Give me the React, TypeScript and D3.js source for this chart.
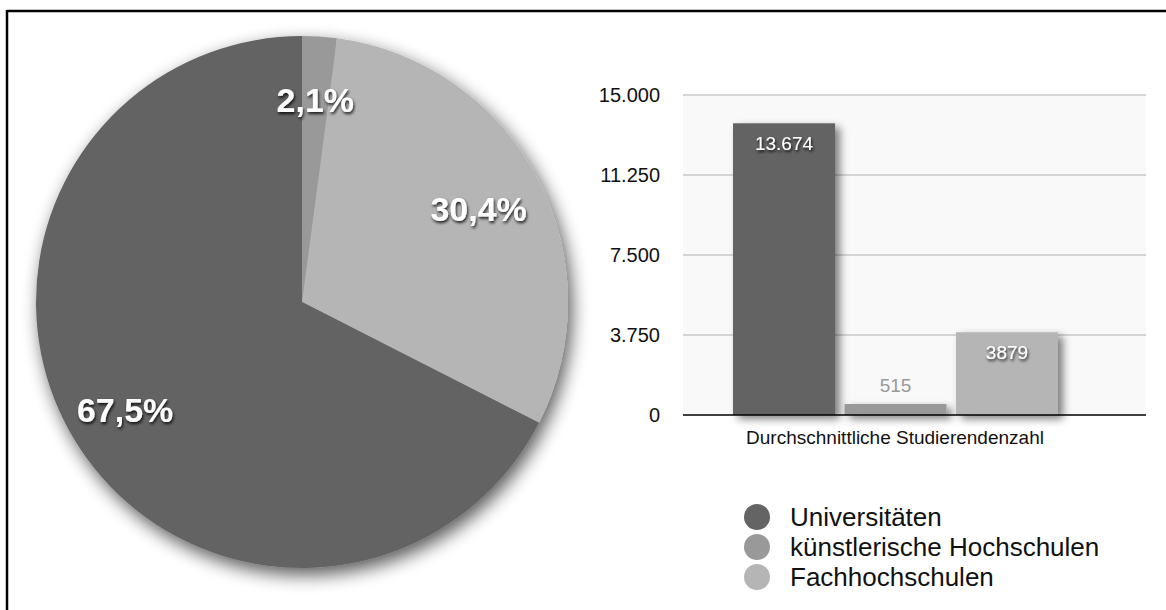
import React from "react";
import * as d3 from "d3";

const categories = ["Universitäten", "künstlerische Hochschulen", "Fachhochschulen"];
const pieShares = [67.5, 2.1, 30.4];
const pieLabels = ["67,5%", "2,1%", "30,4%"];
const barValues = [13674, 515, 3879];
const barLabels = ["13.674", "515", "3879"];
const yTicks = [0, 3750, 7500, 11250, 15000];
const yTickLabels = ["0", "3.750", "7.500", "11.250", "15.000"];
const xCategory = "Durchschnittliche Studierendenzahl";
const colors = ["#646464", "#999999", "#b5b5b5"];

const W = 1166, H = 610;
const FONT = "Liberation Sans, Arial, Helvetica, sans-serif";

export default function App() {
  // Pie: order clockwise from top: künstlerische, Fachhochschulen, Universitäten
  const cx = 302, cy = 302, r = 266;
  const order = [1, 2, 0];
  const labelRadius: Record<number, number> = { 0: 0.78, 1: 0.76, 2: 0.75 };
  const pie = d3.pie<number>().sort(null).value((i) => pieShares[i]);
  const arcs = pie(order);
  const arcGen = d3.arc<d3.PieArcDatum<number>>().innerRadius(0).outerRadius(r);
  const labelPos: Record<number, [number, number]> = {};
  arcs.forEach((a) => {
    const idx = a.data;
    const mid = (a.startAngle + a.endAngle) / 2;
    const rr = r * labelRadius[idx];
    labelPos[idx] = [Math.sin(mid) * rr, -Math.cos(mid) * rr];
  });

  // Bars
  const y = d3.scaleLinear().domain([0, 15000]).range([415, 95]);
  const x = d3.scaleBand<number>().domain([0, 1, 2]).range([733, 1058]).paddingInner(0.085);
  const plotL = 683, plotR = 1146;

  return (
    <svg width={W} height={H} style={{ position: "absolute", left: 0, top: 0, background: "#fff" }} fontFamily={FONT}>
      <defs>
        <filter id="pieShadow" x="-20%" y="-20%" width="140%" height="140%">
          <feGaussianBlur in="SourceAlpha" stdDeviation="9" />
          <feOffset dx="4" dy="7" result="b" />
          <feComponentTransfer><feFuncA type="linear" slope="0.65" /></feComponentTransfer>
          <feMerge><feMergeNode /><feMergeNode in="SourceGraphic" /></feMerge>
        </filter>
        <filter id="barShadow" x="-30%" y="-10%" width="160%" height="130%">
          <feGaussianBlur in="SourceAlpha" stdDeviation="4" />
          <feOffset dx="5" dy="4" result="b" />
          <feComponentTransfer><feFuncA type="linear" slope="0.5" /></feComponentTransfer>
          <feMerge><feMergeNode /><feMergeNode in="SourceGraphic" /></feMerge>
        </filter>
        <filter id="textShadow" x="-20%" y="-30%" width="140%" height="160%">
          <feGaussianBlur in="SourceAlpha" stdDeviation="1.5" />
          <feOffset dx="1" dy="2" result="b" />
          <feComponentTransfer><feFuncA type="linear" slope="0.85" /></feComponentTransfer>
          <feMerge><feMergeNode /><feMergeNode in="SourceGraphic" /></feMerge>
        </filter>
      </defs>

      {/* frame */}
      <line x1={7} y1={11} x2={W} y2={11} stroke="#000" strokeWidth={2.5} />
      <line x1={7} y1={10} x2={7} y2={H} stroke="#000" strokeWidth={2.5} />

      {/* pie */}
      <g transform={`translate(${cx},${cy})`}>
        <g filter="url(#pieShadow)">
          {arcs.map((a) => (
            <path key={a.data} d={arcGen(a) || ""} fill={colors[a.data]} />
          ))}
        </g>
        {[0, 1, 2].map((i) => (
          <text key={i} x={labelPos[i][0]} y={labelPos[i][1]} textAnchor="middle" dominantBaseline="central"
            fill="#fff" fontWeight="bold" fontSize={34} filter="url(#textShadow)">
            {pieLabels[i]}
          </text>
        ))}
      </g>

      {/* bar chart */}
      <rect x={plotL} y={y(15000)} width={plotR - plotL} height={y(0) - y(15000)} fill="#f9f9f9" />
      {yTicks.map((t, i) => (
        <g key={t}>
          {t > 0 && <line x1={plotL} x2={plotR} y1={y(t)} y2={y(t)} stroke="#c8c8c8" strokeWidth={1.5} />}
          <text x={660} y={y(t)} textAnchor="end" dominantBaseline="central" fontSize={20} fill="#111">
            {yTickLabels[i]}
          </text>
        </g>
      ))}
      <g filter="url(#barShadow)">
        {barValues.map((v, i) => (
          <rect key={i} x={x(i)} y={y(v)} width={x.bandwidth()} height={y(0) - y(v)} fill={colors[i]} />
        ))}
      </g>
      <line x1={plotL} x2={plotR} y1={y(0)} y2={y(0)} stroke="#000" strokeWidth={1.5} />
      {barValues.map((v, i) => {
        const inside = y(0) - y(v) > 40;
        return (
          <text key={i} x={(x(i) || 0) + x.bandwidth() / 2} y={inside ? y(v) + 20 : y(v) - 19}
            textAnchor="middle" dominantBaseline="central" fontSize={19}
            fill={inside ? "#fff" : "#999"} filter={inside ? "url(#textShadow)" : undefined}>
            {barLabels[i]}
          </text>
        );
      })}
      <text x={895} y={437} textAnchor="middle" dominantBaseline="central" fontSize={19} fill="#111">
        {xCategory}
      </text>

      {/* legend */}
      {categories.map((c, i) => (
        <g key={c} transform={`translate(0,${517 + i * 30})`}>
          <circle cx={757} cy={0} r={13} fill={colors[i]} />
          <text x={790} y={0} dominantBaseline="central" fontSize={26} fill="#111">{c}</text>
        </g>
      ))}
    </svg>
  );
}
